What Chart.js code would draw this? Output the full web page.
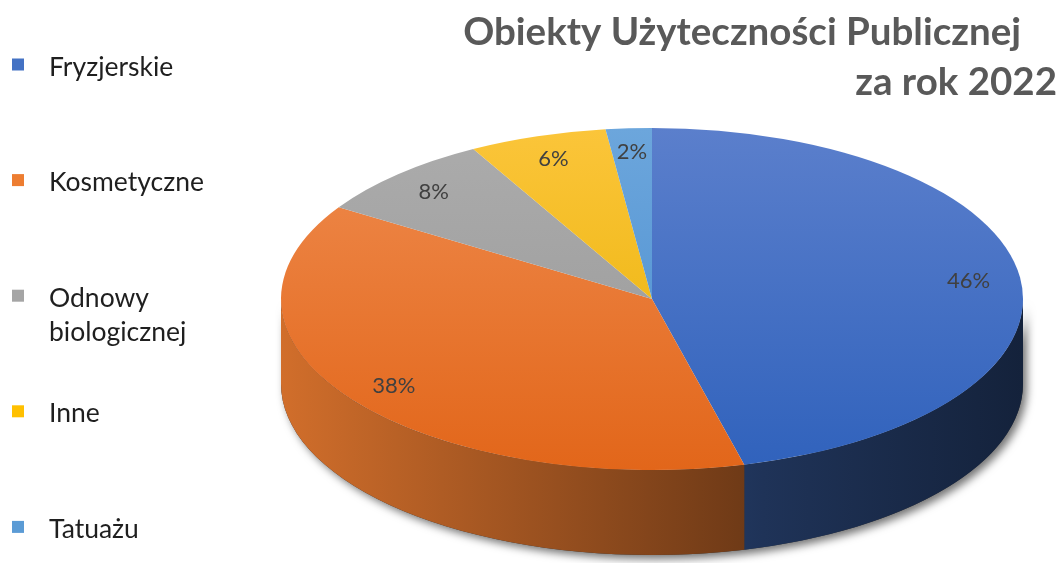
<!DOCTYPE html>
<html>
<head>
<meta charset="utf-8">
<script src="https://cdn.jsdelivr.net/npm/chart.js@4"></script>
<style>
  html, body { margin: 0; padding: 0; background: #fff; }
  canvas { display: block; }
</style>
</head>
<body>
<canvas id="pie-chart" width="1060" height="563"></canvas>
<script>
const titleLines = ['Obiekty Użyteczności Publicznej', 'za rok 2022'];
const categories = ['Fryzjerskie', 'Kosmetyczne', 'Odnowy biologicznej', 'Inne', 'Tatuażu'];
const shares = [46, 38, 8, 6, 2];

// office palette, plus lighter/darker ends for the top face gradient
const colors = ['#4472C4', '#ED7D31', '#A5A5A5', '#FFC000', '#5B9BD5'];
const topColors = ['#5B7FCC', '#EF8B4E', '#ACACAC', '#FBC53A', '#6CA6DC'];
const bottomColors = ['#3062BC', '#E2661A', '#979797', '#E8B000', '#488CCF'];

const RADIUS = 371;   // horizontal radius of the pie
const TILT = 0.461;   // vertical squash of the top face
const DEPTH = 85;     // thickness of the pie side

function shade(hex, f) {
  const n = parseInt(hex.slice(1), 16);
  const r = Math.round(((n >> 16) & 255) * f);
  const g = Math.round(((n >> 8) & 255) * f);
  const b = Math.round((n & 255) * f);
  return `rgb(${r}, ${g}, ${b})`;
}

function wrapText(ctx, text, maxWidth) {
  const words = text.split(' ');
  const lines = [];
  let line = '';
  words.forEach(w => {
    const test = line ? line + ' ' + w : w;
    if (line && ctx.measureText(test).width > maxWidth) {
      lines.push(line);
      line = w;
    } else {
      line = test;
    }
  });
  lines.push(line);
  return lines;
}

// draws the side wall + shadow, and squashes the top face into an ellipse
const pie3d = {
  id: 'pie3d',
  beforeDatasetsDraw(chart) {
    const ctx = chart.ctx;
    const arcs = chart.getDatasetMeta(0).data;
    const { x: cx, y: cy, outerRadius: r } = arcs[0];
    const ry = r * TILT;

    // soft shadow under the rim
    ctx.save();
    ctx.beginPath();
    ctx.ellipse(cx, cy, r, ry, 0, 0, Math.PI);
    ctx.ellipse(cx, cy + DEPTH, r, ry, 0, Math.PI, 0, true);
    ctx.closePath();
    ctx.shadowColor = 'rgba(0, 0, 0, 0.55)';
    ctx.shadowBlur = 9;
    ctx.shadowOffsetX = 4;
    ctx.shadowOffsetY = 4;
    ctx.fillStyle = '#333';
    ctx.fill();
    ctx.restore();

    // visible part of the side is the front half (0..PI)
    arcs.forEach((arc, i) => {
      const a = Math.max(arc.startAngle, 0);
      const b = Math.min(arc.endAngle, Math.PI);
      if (b <= a) return;
      const grad = ctx.createLinearGradient(cx - r, 0, cx + r, 0);
      grad.addColorStop(0, shade(colors[i], 0.88));
      grad.addColorStop(0.65, shade(colors[i], 0.45));
      grad.addColorStop(1, shade(colors[i], 0.3));
      ctx.beginPath();
      ctx.ellipse(cx, cy, r, ry, 0, a, b);
      ctx.ellipse(cx, cy + DEPTH, r, ry, 0, b, a, true);
      ctx.closePath();
      ctx.fillStyle = grad;
      ctx.fill();
    });

    ctx.save();
    ctx.translate(cx, cy);
    ctx.scale(1, TILT);
    ctx.translate(-cx, -cy);
  },
  afterDatasetsDraw(chart) {
    const ctx = chart.ctx;
    ctx.restore();

    const arcs = chart.getDatasetMeta(0).data;
    const total = shares.reduce((s, v) => s + v, 0);
    ctx.save();
    ctx.font = '22px Lato';
    ctx.fillStyle = '#404040';
    ctx.textAlign = 'center';
    ctx.textBaseline = 'middle';
    arcs.forEach((arc, i) => {
      const mid = (arc.startAngle + arc.endAngle) / 2;
      const lx = arc.x + Math.cos(mid) * arc.outerRadius * 0.86;
      const ly = arc.y + Math.sin(mid) * arc.outerRadius * TILT * 0.86;
      ctx.fillText(Math.round(shares[i] / total * 100) + '%', lx, ly);
    });
    ctx.restore();
  },
  afterDraw(chart) {
    const ctx = chart.ctx;
    ctx.save();

    // title, two right-aligned lines
    ctx.font = 'bold 38.5px Lato';
    ctx.fillStyle = '#595959';
    ctx.textAlign = 'right';
    ctx.textBaseline = 'alphabetic';
    ctx.fillText(titleLines[0], 1021, 45);
    ctx.fillText(titleLines[1], 1057, 95);

    // legend down the left edge
    ctx.font = '26.5px Lato';
    ctx.textAlign = 'left';
    categories.forEach((label, i) => {
      const my = 64.5 + i * 115.6;
      ctx.fillStyle = colors[i];
      ctx.fillRect(12, my - 6, 12, 12);
      ctx.fillStyle = '#1f1f1f';
      wrapText(ctx, label, 185).forEach((line, j) => {
        ctx.fillText(line, 49, my + 11 + j * 34.5);
      });
    });
    ctx.restore();
  }
};

new Chart(document.getElementById('pie-chart'), {
  type: 'pie',
  data: {
    labels: categories,
    datasets: [{
      data: shares,
      borderWidth: 0,
      backgroundColor: (c) => {
        const area = c.chart.chartArea;
        if (!area) return colors[c.dataIndex];
        const cy = (area.top + area.bottom) / 2;
        const g = c.chart.ctx.createLinearGradient(0, cy - RADIUS, 0, cy + RADIUS);
        g.addColorStop(0, topColors[c.dataIndex]);
        g.addColorStop(1, bottomColors[c.dataIndex]);
        return g;
      }
    }]
  },
  options: {
    responsive: false,
    animation: false,
    events: [],
    radius: RADIUS,
    layout: {
      padding: { left: 244, right: 0, top: 35, bottom: 0 }
    },
    plugins: {
      legend: { display: false },
      title: { display: false },
      tooltip: { enabled: false }
    }
  },
  plugins: [pie3d]
});
</script>
</body>
</html>
